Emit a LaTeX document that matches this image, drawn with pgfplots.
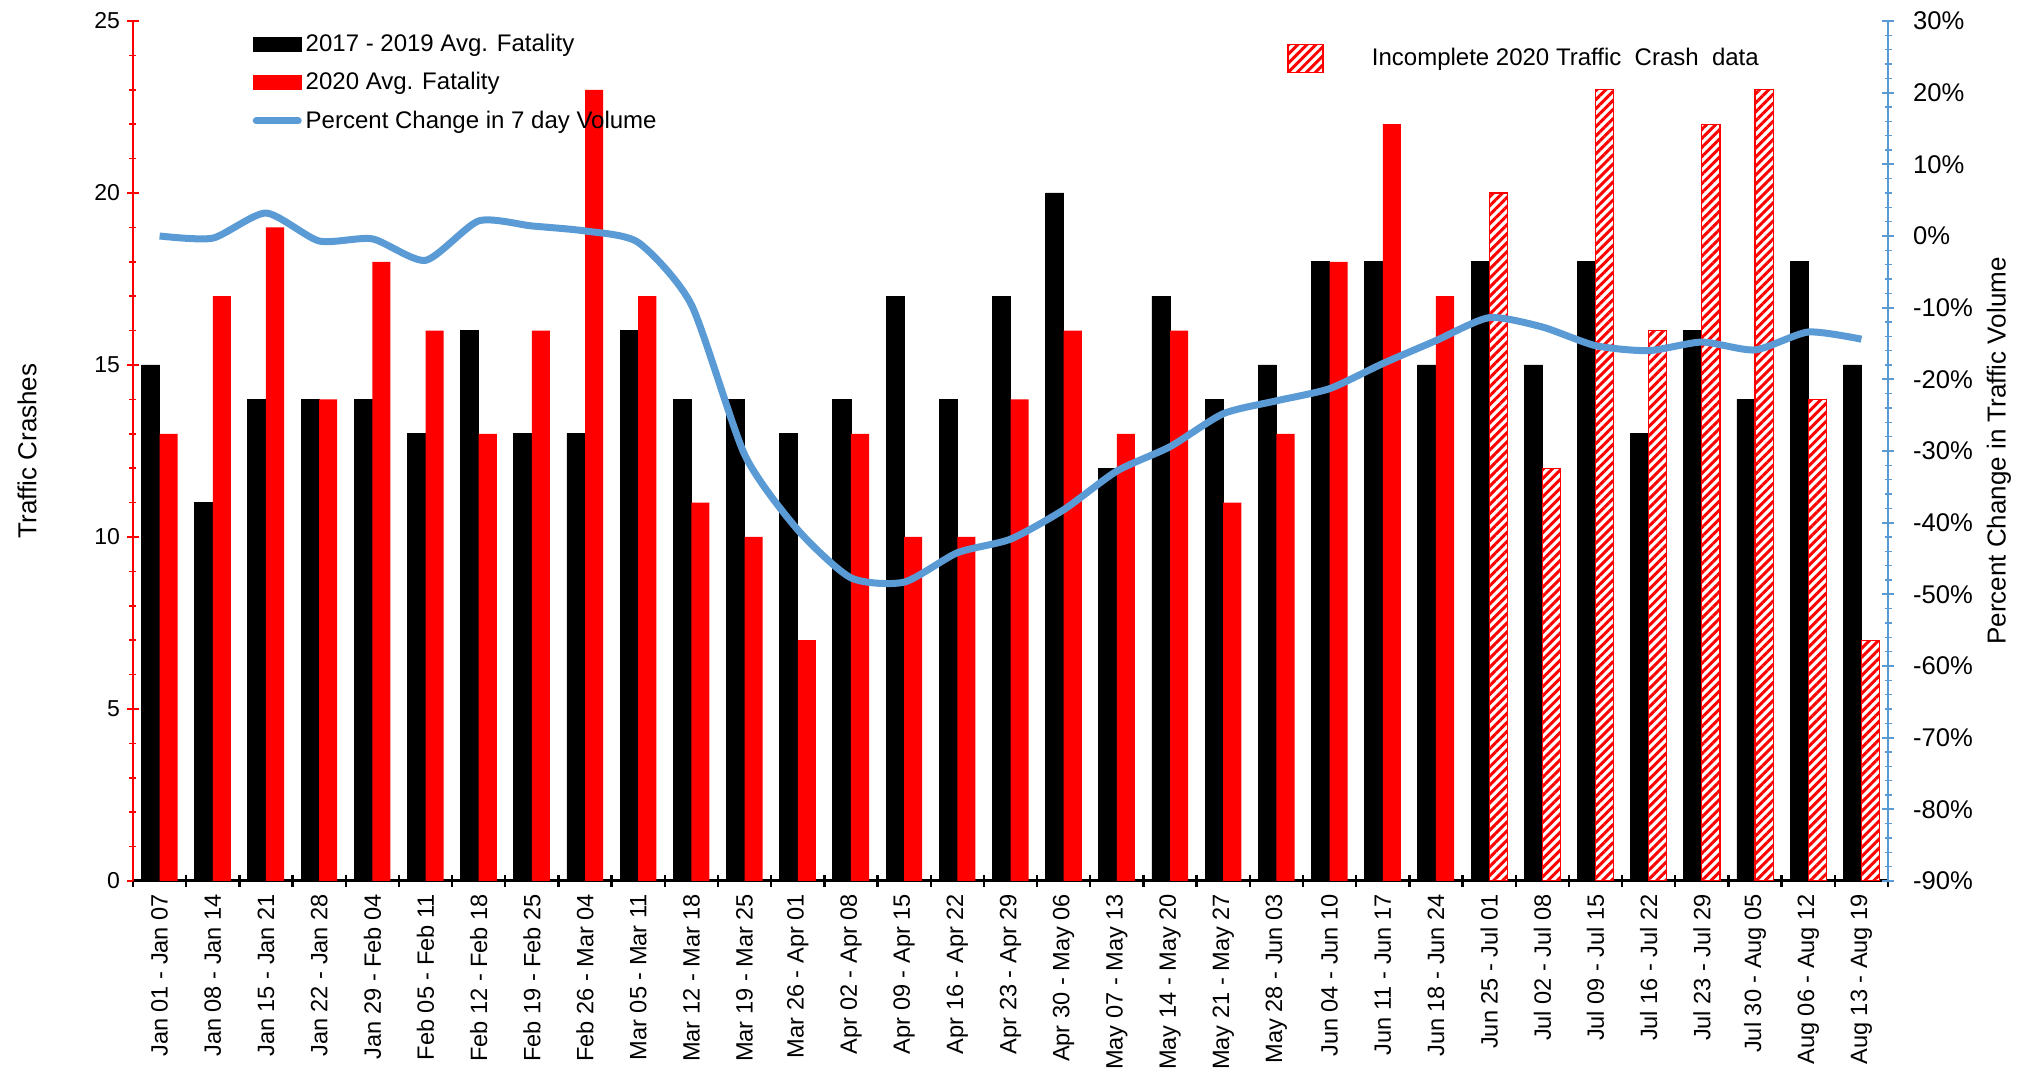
\documentclass[border=0pt]{standalone}
\usepackage{pgfplots}
\pgfplotsset{compat=1.18}
\usepackage{fontspec}
\setmainfont{Liberation Sans}
\usetikzlibrary{patterns.meta}
\definecolor{lineblue}{RGB}{91,155,213}
\begin{document}
\begin{tikzpicture}
\path[use as bounding box] (-66.5pt,-99.5pt) rectangle (947.5pt,440.5pt);
\begin{axis}[
  scale only axis, width=877.5pt, height=430pt,
  xmin=0.5, xmax=33.5, ymin=0, ymax=25,
  axis x line*=bottom, axis y line*=left,
  /pgf/number format/assume math mode=true,
  tick align=center, major tick length=6pt, minor tick length=3.5pt,
  xtick={0.5,1.5,...,33.5}, x tick label as interval,
  xticklabels={Jan 01 - Jan 07, Jan 08 - Jan 14, Jan 15 - Jan 21, Jan 22 - Jan 28, Jan 29 - Feb 04, Feb 05 - Feb 11, Feb 12 - Feb 18, Feb 19 - Feb 25, Feb 26 - Mar 04, Mar 05 - Mar 11, Mar 12 - Mar 18, Mar 19 - Mar 25, Mar 26 - Apr 01, Apr 02 - Apr 08, Apr 09 - Apr 15, Apr 16 - Apr 22, Apr 23 - Apr 29, Apr 30 - May 06, May 07 - May 13, May 14 - May 20, May 21 - May 27, May 28 - Jun 03, Jun 04 - Jun 10, Jun 11 - Jun 17, Jun 18 - Jun 24, Jun 25 - Jul 01, Jul 02 - Jul 08, Jul 09 - Jul 15, Jul 16 - Jul 22, Jul 23 - Jul 29, Jul 30 - Aug 05, Aug 06 - Aug 12, Aug 13 - Aug 19},
  xticklabel style={rotate=90, anchor=east, font=\fontsize{11.8}{13}\selectfont},
  x axis line style={black, line width=1.5pt},
  xtick style={black, line width=1.2pt},
  ytick={0,5,...,25}, minor y tick num=4,
  y axis line style={red, line width=1.2pt},
  ytick style={red, line width=1pt},
  minor y tick style={red, line width=0.8pt},
  yticklabel style={font=\fontsize{11.5}{13}\selectfont, black},
  every axis y label/.style={at={(axis description cs:0,0.5)}, xshift=-53pt, rotate=90, anchor=center, font=\fontsize{13}{15}\selectfont},
  ylabel={Traffic Crashes},
  legend style={at={(0.068,0.99)}, anchor=north west, draw=none, fill=none, font=\fontsize{12}{14}\selectfont, row sep=5pt, inner sep=0pt, cells={anchor=west}, nodes={inner sep=2pt}},
]
\addplot[ybar, bar width=0.34, bar shift=-0.17, fill=black, draw=black, forget plot] coordinates {
(1,15) (2,11) (3,14) (4,14) (5,14) (6,13) (7,16) (8,13) (9,13) (10,16) (11,14) (12,14) (13,13) (14,14) (15,17) (16,14) (17,17) (18,20) (19,12) (20,17) (21,14) (22,15) (23,18) (24,18) (25,15) (26,18) (27,15) (28,18) (29,13) (30,16) (31,14) (32,18) (33,15)};
\addplot[ybar, bar width=0.34, bar shift=0.17, fill=red, draw=none, forget plot] coordinates {
(1,13) (2,17) (3,19) (4,14) (5,18) (6,16) (7,13) (8,16) (9,23) (10,17) (11,11) (12,10) (13,7) (14,13) (15,10) (16,10) (17,14) (18,16) (19,13) (20,16) (21,11) (22,13) (23,18) (24,22) (25,17)};
\addplot[ybar, bar width=0.34, bar shift=0.17, fill=white, draw=red, line width=0.6pt, postaction={pattern={Lines[angle=45,distance=3.2pt,line width=1.5pt]}, pattern color=red}, forget plot] coordinates {
(26,20) (27,12) (28,23) (29,16) (30,22) (31,23) (32,14) (33,7)};
\addlegendimage{legend image code/.code={\fill[black] (0pt,-3.5pt) rectangle (24pt,3.5pt);}}
\addlegendentry{2017 - 2019 Avg. Fatality}
\addlegendimage{legend image code/.code={\fill[red] (0pt,-3.5pt) rectangle (24pt,3.5pt);}}
\addlegendentry{2020 Avg. Fatality}
\addlegendimage{legend image code/.code={\draw[lineblue, line width=3.5pt, line cap=round] (1.5pt,0pt) -- (22.5pt,0pt); \path[draw=none, fill=none] (0pt,-1pt) rectangle (24pt,1pt);}}
\addlegendentry{Percent Change in 7 day Volume}
\end{axis}
\begin{axis}[
  scale only axis, width=877.5pt, height=430pt,
  xmin=0.5, xmax=33.5, ymin=-90, ymax=30,
  axis x line=none, axis y line*=right,
  xtick=\empty,
  tick align=center, major tick length=6pt, minor tick length=3.5pt,
  ytick={-90,-80,...,30},
  yticklabels={-90\%,-80\%,-70\%,-60\%,-50\%,-40\%,-30\%,-20\%,-10\%,0\%,10\%,20\%,30\%},
  minor y tick num=4,
  y axis line style={lineblue, line width=1.2pt},
  ytick style={lineblue, line width=1pt},
  minor y tick style={lineblue, line width=0.8pt},
  yticklabel style={font=\fontsize{12.8}{14}\selectfont, black, anchor=west, xshift=6pt},
  every axis y label/.style={at={(axis description cs:1,0.5)}, xshift=55.5pt, rotate=90, anchor=center, font=\fontsize{13}{15}\selectfont},
  ylabel={Percent Change in Traffic Volume},
  legend style={at={(0.6575,0.974)}, anchor=north west, draw=none, fill=none, font=\fontsize{12}{14}\selectfont, inner sep=0pt, cells={anchor=west}, nodes={inner sep=2pt}},
]
\addplot[lineblue, line width=3.5pt, smooth, tension=0.4, forget plot] coordinates {
(1,0) (2,-0.3) (3,3.2) (4,-0.7) (5,-0.4) (6,-3.4) (7,2.1) (8,1.4) (9,0.7) (10,-0.9) (11,-9.6) (12,-30.5) (13,-41) (14,-47.7) (15,-48.3) (16,-44.2) (17,-42.3) (18,-38.2) (19,-32.8) (20,-29.4) (21,-24.8) (22,-23) (23,-21.3) (24,-17.8) (25,-14.6) (26,-11.4) (27,-12.7) (28,-15.3) (29,-16) (30,-14.8) (31,-15.9) (32,-13.4) (33,-14.4)};
\addlegendimage{legend image code/.code={\draw[red, line width=0.6pt, fill=white, postaction={pattern={Lines[angle=45,distance=3.2pt,line width=1.5pt]}, pattern color=red}] (0pt,-7pt) rectangle (17.5pt,7pt); \path[draw=none, fill=none] (0pt,-1pt) rectangle (40pt,1pt);}}
\addlegendentry{Incomplete 2020 Traffic~~Crash~~data}
\end{axis}
\end{tikzpicture}
\end{document}
